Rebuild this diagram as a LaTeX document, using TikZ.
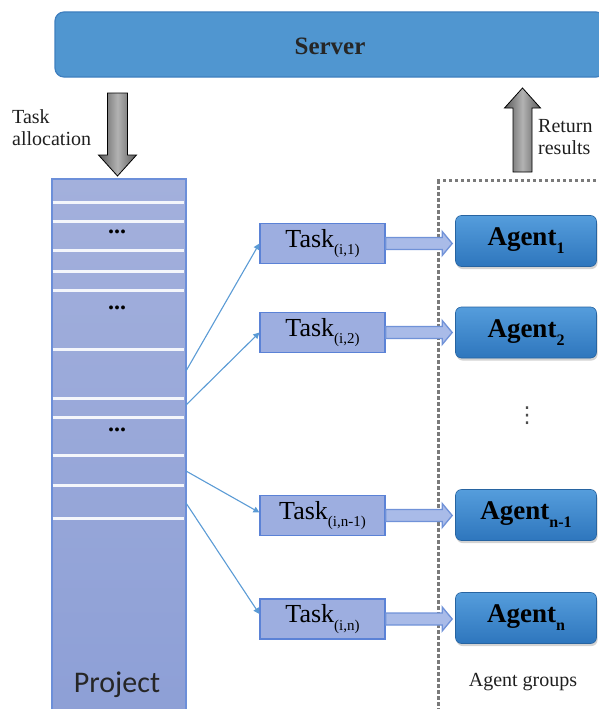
\documentclass[tikz,border=0pt]{standalone}
\usepackage{fontspec}
\setmainfont{Liberation Serif}
\newfontfamily\projfont{Carlito}
\newfontfamily\dvfont{DejaVu Sans}
\usetikzlibrary{shadows,arrows.meta,calc}
\definecolor{serverblue}{HTML}{5096D0}
\definecolor{serveredge}{HTML}{3F7FBF}
\definecolor{projtop}{HTML}{A3B0DC}
\definecolor{projbot}{HTML}{8D9FD6}
\definecolor{projedge}{HTML}{6C8FD9}
\definecolor{taskfill}{HTML}{9DAEE0}
\definecolor{taskedge}{HTML}{5B82D6}
\definecolor{agenttop}{HTML}{559DDC}
\definecolor{agentbot}{HTML}{2E76BD}
\definecolor{blkfill}{HTML}{A9BBE8}
\definecolor{blkedge}{HTML}{7092D8}
\definecolor{thinblue}{HTML}{5B9BD5}
\definecolor{dashgray}{HTML}{7A7A7A}
\newcommand\mysub[1]{\raisebox{-0.3em}{\fontsize{15}{15}\selectfont #1}}
\newcommand\agsub[1]{\raisebox{-0.3em}{\fontsize{16}{16}\selectfont #1}}
\tikzset{
  serverbox/.style={draw=serveredge, line width=1.2pt, fill=serverblue, rounded corners=9pt,
    minimum width=550pt, minimum height=65pt, inner sep=0pt},
  projbox/.style={draw=projedge, line width=1.5pt, top color=projtop, bottom color=projbot,
    minimum width=134pt, minimum height=545pt, inner sep=0pt, anchor=north west},
  taskbox/.style={draw=taskedge, line width=1.2pt, fill=taskfill, minimum width=125pt,
    minimum height=40pt, inner sep=0pt, font=\fontsize{26}{28}\selectfont},
  agentbox/.style={top color=agenttop, bottom color=agentbot, draw=agentbot!85!black, line width=0.6pt,
    rounded corners=6pt, minimum width=141pt, minimum height=51pt, inner sep=0pt,
    drop shadow={shadow xshift=1pt, shadow yshift=-2.5pt, opacity=0.35},
    font=\bfseries\fontsize{27}{29}\selectfont},
  sep/.style={white!88!projtop, line width=3pt},
  thinarr/.style={thinblue, line width=1.1pt, -{Triangle[length=6pt,width=6pt]}},
  blkarrow/.style={draw=blkedge, line width=1.3pt, fill=blkfill, line join=miter},
  grayarrow/.style={draw=black, line width=0.8pt, left color=black!65, right color=black!65, middle color=black!30},
  lbl/.style={font=\fontsize{20}{22}\selectfont, text=black!88, inner sep=0pt},
  dots/.style={font=\bfseries\fontsize{24}{24}\selectfont, inner sep=0pt},
  dashseg/.style={fill=dashgray},
}
\newcommand\blockarr[2]{%
  \draw[blkarrow] ($(#1.east)+(0,-6)$) -- ($(#2.west |- #1.east)+(-13,-6)$)
    -- ($(#2.west |- #1.east)+(-13,-12)$) -- ($(#2.west |- #1.east)+(-3,0)$)
    -- ($(#2.west |- #1.east)+(-13,12)$) -- ($(#2.west |- #1.east)+(-13,6)$)
    -- ($(#1.east)+(0,6)$) -- cycle;}
\begin{document}
\begin{tikzpicture}[x=1pt,y=-1pt]
\useasboundingbox (0,0) rectangle (598,709);
% server
\node[serverbox] (server) at (330,44.5) {};
\node[font=\bfseries\fontsize{25}{27}\selectfont, text=black!85] (servertext) at (330,46) {Server};
% project column
\node[projbox] (project) at (51,178) {};
\foreach \yy in {202,221,250,271,290,349,398,417,455,485,518}
  \draw[sep] (52.5,\yy) -- (183.5,\yy);
\node[dots] (d1) at (117,232) {...};
\node[dots] (d2) at (117,308) {...};
\node[dots] (d3) at (117,430) {...};
\node[font=\projfont\fontsize{30}{30}\selectfont, text=black!85, inner sep=0pt] (projtext) at (117,685) {Project};
% gray arrows
\draw[grayarrow] (107.5,93) -- (127.5,93) -- (127.5,155) -- (136.5,155) -- (117.5,176)
  -- (98.5,155) -- (107.5,155) -- cycle;
\draw[grayarrow] (513,172) -- (532,172) -- (532,108) -- (540.5,108) -- (522.5,88)
  -- (504.5,108) -- (513,108) -- cycle;
\node[lbl, anchor=north west, align=left] (talloc) at (12,109.5) {Task\\allocation};
\node[lbl, anchor=north west, align=left] (rres) at (538,119.5) {Return\\results};
% agent group (dashed frame)
\foreach \yy in {180,186,...,708}
  \fill[dashseg] (436.6,\yy) rectangle (439.6,\yy+3.6);
\foreach \xx in {436.6,442.6,...,598}
  \fill[dashseg] (\xx,179.2) rectangle (\xx+3.6,181.8);
\node[lbl] (groups) at (523,682) {Agent groups};
\node[font=\dvfont\fontsize{22}{22}\selectfont, text=black!70, inner sep=0pt] (vdots) at (527,416) {⋮};
% tasks
\node[taskbox] (t1) at (322.5,243.5) {Task\mysub{(i,1)}};
\node[taskbox] (t2) at (322.5,332.5) {Task\mysub{(i,2)}};
\node[taskbox] (t3) at (322.5,515.5) {Task\mysub{(i,n-1)}};
\node[taskbox] (t4) at (322.5,619) {Task\mysub{(i,n)}};
% agents
\node[agentbox] (a1) at (526,241) {Agent\agsub{1}};
\node[agentbox] (a2) at (526,332.5) {Agent\agsub{2}};
\node[agentbox] (a3) at (526,515) {Agent\agsub{n-1}};
\node[agentbox] (a4) at (526,618) {Agent\agsub{n}};
% thin arrows from project
\coordinate (p1) at (186,371);
\coordinate (p2) at (186,405);
\coordinate (p3) at (186,471);
\coordinate (p4) at (186,503);
\draw[thinarr] (p1) -- (t1.west);
\draw[thinarr] (p2) -- (t2.west);
\draw[thinarr] (p3) -- ($(t3.west)+(0,-3)$);
\draw[thinarr] (p4) -- ($(t4.west)+(0,-5)$);
% block arrows
\blockarr{t1}{a1}
\blockarr{t2}{a2}
\blockarr{t3}{a3}
\blockarr{t4}{a4}
\end{tikzpicture}
\end{document}
